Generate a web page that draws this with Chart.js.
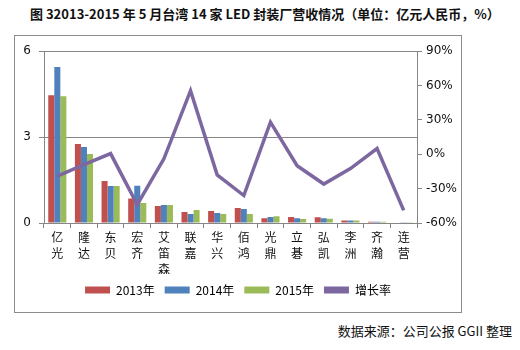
<!DOCTYPE html>
<html>
<head>
<meta charset="utf-8">
<script src="https://cdn.jsdelivr.net/npm/chart.js@4"></script>
<style>
  body { margin: 0; background: #fff; width: 520px; height: 350px; position: relative; overflow: hidden; }
  #title { position: absolute; left: 30px; top: 4px; font: bold 13px "Noto Sans CJK SC", sans-serif; color: #111; white-space: nowrap; }
  #box { position: absolute; left: 14px; top: 35px; width: 446px; height: 276px; border: 1px solid #8c8c8c; }
  #source { position: absolute; right: 8px; top: 321px; font: 13px "Noto Sans CJK SC", sans-serif; color: #111; white-space: nowrap; }
</style>
</head>
<body>
<div id="title">图 32013-2015 年 5 月台湾 14 家 LED 封装厂营收情况（单位：亿元人民币，%）</div>
<div id="box"><canvas id="myChart" width="446" height="276"></canvas></div>
<div id="source">数据来源：公司公报 GGII 整理</div>
<script>
const companies = ['亿光', '隆达', '东贝', '宏齐', '艾笛森', '联嘉', '华兴', '佰鸿', '光鼎', '立碁', '弘凯', '李洲', '齐瀚', '连营'];
const rev2013 = [4.46, 2.76, 1.47, 0.86, 0.59, 0.38, 0.42, 0.52, 0.17, 0.21, 0.20, 0.09, 0.04, 0.02];
const rev2014 = [5.45, 2.65, 1.29, 1.30, 0.63, 0.31, 0.35, 0.49, 0.21, 0.17, 0.17, 0.09, 0.04, 0.01];
const rev2015 = [4.43, 2.41, 1.29, 0.70, 0.63, 0.45, 0.31, 0.31, 0.24, 0.14, 0.15, 0.09, 0.04, 0.01];
const growth = [-19, -9, 0.6, -44, -4, 55.5, -18, -36, 28, -10, -26, -12.5, 5, -49];

const leftTicks = [0, 3, 6];
const rightTicks = [-60, -30, 0, 30, 60, 90];

const gridColor = '#868686';
const cjk = '"Noto Sans CJK SC", sans-serif';

const ctx = document.getElementById('myChart').getContext('2d');
new Chart(ctx, {
  type: 'bar',
  data: {
    labels: companies.map(name => name.split('')),
    datasets: [
      { type: 'line', label: '增长率', data: growth, yAxisID: 'y1', order: 0,
        borderColor: '#7d67a0', backgroundColor: '#7d67a0', borderWidth: 3.5,
        pointRadius: 0, tension: 0 },
      { label: '2013年', data: rev2013, backgroundColor: '#c0504d', order: 1 },
      { label: '2014年', data: rev2014, backgroundColor: '#4f81bd', order: 1 },
      { label: '2015年', data: rev2015, backgroundColor: '#9bbb59', order: 1 }
    ]
  },
  options: {
    responsive: false,
    animation: false,
    categoryPercentage: 0.68,
    barPercentage: 1,
    layout: { padding: { top: 15, left: 0, right: 0, bottom: 6 } },
    plugins: {
      tooltip: { enabled: false },
      legend: {
        position: 'bottom',
        labels: {
          boxWidth: 25,
          boxHeight: 7,
          padding: 10,
          color: '#111',
          font: { size: 12, family: cjk },
          sort: (a, b) => (a.datasetIndex === 0) - (b.datasetIndex === 0),
          generateLabels: chart => chart.data.datasets.map((ds, i) => ({
            text: ds.label,
            fillStyle: ds.backgroundColor,
            strokeStyle: ds.backgroundColor,
            lineWidth: 0,
            hidden: false,
            datasetIndex: i
          }))
        }
      }
    },
    scales: {
      x: {
        afterFit: axis => { axis.height = 51; },
        border: { color: gridColor },
        grid: { offset: true, drawOnChartArea: false, color: gridColor, tickLength: 5 },
        ticks: { color: '#111', maxRotation: 0, autoSkip: false, padding: 2,
                 font: { size: 12, family: cjk, lineHeight: 1.3 } }
      },
      y: {
        position: 'left',
        min: 0, max: 6,
        afterFit: axis => { axis.width = 29; },
        afterBuildTicks: axis => { axis.ticks = leftTicks.map(v => ({ value: v })); },
        border: { color: gridColor },
        grid: { color: gridColor, tickLength: 5 },
        ticks: { color: '#111', padding: 8, font: { size: 12, family: 'DejaVu Sans' } }
      },
      y1: {
        position: 'right',
        min: -60, max: 90,
        afterFit: axis => { axis.width = 44; },
        afterBuildTicks: axis => { axis.ticks = rightTicks.map(v => ({ value: v })); },
        border: { color: gridColor },
        grid: { drawOnChartArea: false, color: gridColor, tickLength: 5 },
        ticks: { color: '#111', padding: 4, font: { size: 12, family: 'DejaVu Sans' },
                 callback: v => v + '%' }
      }
    }
  }
});
</script>
</body>
</html>
